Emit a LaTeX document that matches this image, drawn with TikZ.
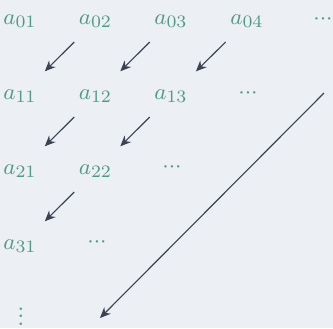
\documentclass[tikz,border=0pt]{standalone}
\usetikzlibrary{arrows.meta}
\definecolor{frost}{HTML}{ECEFF4}
\definecolor{sea}{HTML}{4E9A87}
\definecolor{ink}{HTML}{3B4252}
\newcommand{\smallvdots}{\vbox{\baselineskip2.9pt\lineskiplimit0pt\hbox{.}\hbox{.}\hbox{.}}}
\newcommand{\smallhdots}{${\cdot}{\cdot}{\cdot}$}

\begin{document}
\begin{tikzpicture}[
  x=0.4pt, y=-0.4pt,
  font=\fontsize{9.5}{11}\selectfont,
  >={Stealth[length=1.5mm,width=1.3mm]},
  entry/.style={text=sea, anchor=base, inner sep=0pt},
  diag/.style={->, line width=0.45pt, draw=ink,
               shorten <=12pt, shorten >=14pt},
  sweep/.style={->, line width=0.45pt, draw=ink},
]
\fill[frost] (0,0) rectangle (333,328);
\useasboundingbox (0,0) rectangle (333,328);

\node[entry] (a01) at (20,24) {$a_{01}$};
\node[entry] (a02) at (95.5,24) {$a_{02}$};
\node[entry] (a03) at (171,24) {$a_{03}$};
\node[entry] (a04) at (247,24) {$a_{04}$};
\node[entry] (d0) at (323,24) {\smallhdots};

\node[entry] (a11) at (20,99) {$a_{11}$};
\node[entry] (a12) at (95.5,99) {$a_{12}$};
\node[entry] (a13) at (171,99) {$a_{13}$};
\node[entry] (d1) at (248,98) {\smallhdots};

\node[entry] (a21) at (20,174) {$a_{21}$};
\node[entry] (a22) at (95.5,174) {$a_{22}$};
\node[entry] (d2) at (172,172) {\smallhdots};

\node[entry] (a31) at (20,249) {$a_{31}$};
\node[entry] (d3) at (97,247) {\smallhdots};

\node[entry] (d4) at (21,325) {\smallvdots};

\coordinate (far) at (324,93);
\coordinate (deep) at (100,318);

\draw[diag] (a02.center) -- (a11.center);
\draw[diag] (a03.center) -- (a12.center);
\draw[diag] (a04.center) -- (a13.center);
\draw[diag] (a12.center) -- (a21.center);
\draw[diag] (a13.center) -- (a22.center);
\draw[diag] (a22.center) -- (a31.center);
\draw[sweep] (far) -- (deep);
\end{tikzpicture}
\end{document}
